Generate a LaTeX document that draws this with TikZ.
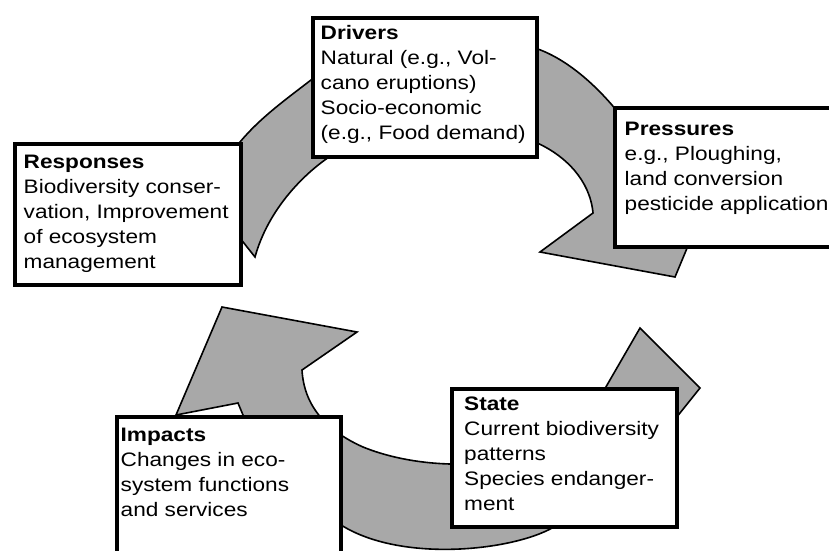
\documentclass[tikz,border=0pt]{standalone}
\usepackage{fontspec}
\setmainfont{Liberation Sans}[FakeStretch=1.16]
\usetikzlibrary{calc}
\definecolor{bandgray}{RGB}{168,168,168}
\begin{document}
\begin{tikzpicture}[x=1pt,y=-1pt,
  band/.style={fill=bandgray, draw=black, line width=1.6pt, line join=miter},
  box/.style={draw=black, fill=white, line width=4pt, inner sep=0pt, anchor=north west},
  txt/.style={anchor=north west, inner sep=0pt, align=left,
    font=\fontsize{19.5}{25}\selectfont}]
\useasboundingbox (0,0) rectangle (829,550);
\clip (0,0) rectangle (829,550);

% upper curved arrow: Responses -> Drivers -> Pressures
\draw[band] (255,257) .. controls (268,210) and (303,174) .. (332,155)
  .. controls (380,125) and (490,115) .. (535,142)
  .. controls (565,155) and (590,180) .. (593,213)
  -- (540,252) -- (675,277) -- (705,205) -- (645,160) -- (616,110) -- (612,105)
  .. controls (592,82) and (565,58) .. (535,48)
  .. controls (470,20) and (370,30) .. (311,80)
  .. controls (285,100) and (260,118) .. (240,142)
  -- (232,160) -- (232,228) -- cycle;

% lower curved arrow with a head at each end
\draw[band] (640,328) -- (700,388) -- (668,428)
  .. controls (640,470) and (600,505) .. (557,525)
  .. controls (520,550) and (400,565) .. (338,523)
  .. controls (290,500) and (255,450) .. (243,415)
  -- (238,403) -- (176,415) -- (222,307) -- (357,332) -- (302,370)
  .. controls (304,405) and (325,430) .. (363,447)
  .. controls (385,456) and (415,463) .. (450,464)
  .. controls (500,466) and (560,440) .. (592,411) -- cycle;

% boxes
\node[box, minimum width=224pt, minimum height=139pt] (drivers) at (311,16) {};
\node[box, minimum width=230pt, minimum height=139pt] (pressures) at (613,106) {};
\node[box, minimum width=226pt, minimum height=141pt] (responses) at (13,142) {};
\node[box, minimum width=225pt, minimum height=138pt] (state) at (450,387) {};
\node[box, minimum width=224pt, minimum height=160pt] (impacts) at (115,415) {};

% box texts
\node[txt] (driversT) at ($(drivers.north west)+(9.5,9)$)
  {\textbf{Drivers}\\Natural (e.g., Vol-\\cano eruptions)\\Socio-economic\\(e.g., Food demand)};
\node[txt] (pressuresT) at ($(pressures.north west)+(11.5,16)$)
  {\textbf{Pressures}\\e.g., Ploughing,\\land conversion\\pesticide application};
\node[txt] (responsesT) at ($(responses.north west)+(10.5,13)$)
  {\textbf{Responses}\\Biodiversity conser-\\vation, Improvement\\of ecosystem\\management};
\node[txt] (stateT) at ($(state.north west)+(14,10)$)
  {\textbf{State}\\Current biodiversity\\patterns\\Species endanger-\\ment};
\node[txt] (impactsT) at ($(impacts.north west)+(5.5,13)$)
  {\textbf{Impacts}\\Changes in eco-\\system functions\\and services};
\end{tikzpicture}
\end{document}
